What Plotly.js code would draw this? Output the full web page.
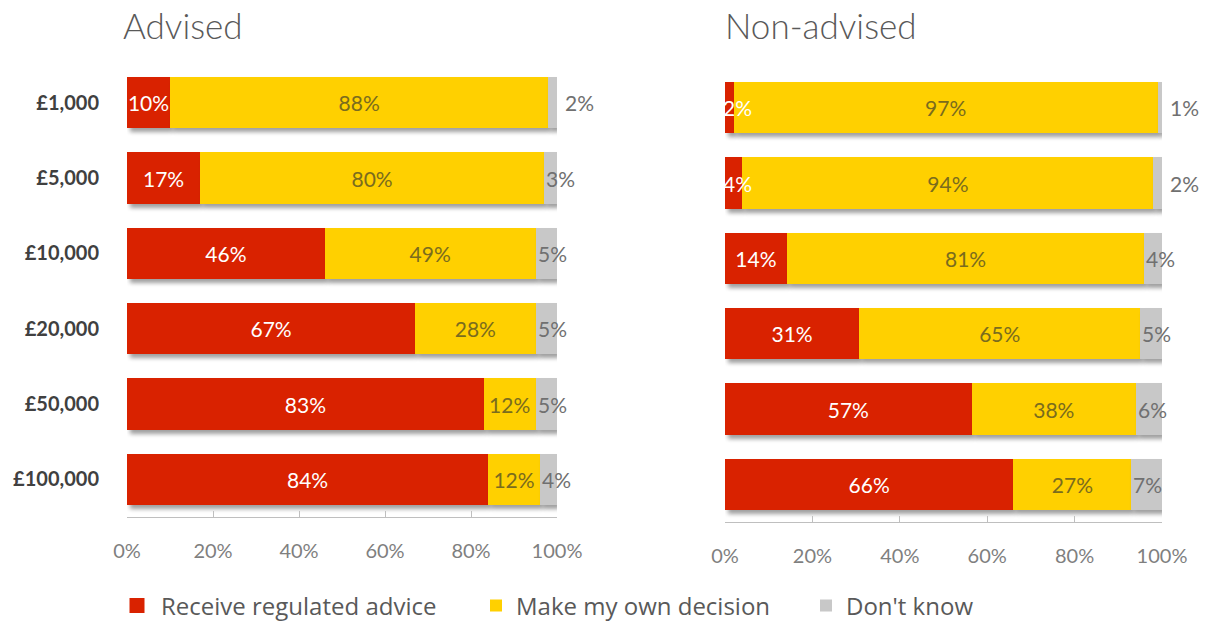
<!DOCTYPE html>
<html>
<head>
<meta charset="utf-8">
<script src="https://cdn.plot.ly/plotly-3.0.1.min.js"></script>
<style>
  html, body { margin: 0; padding: 0; background: #fff; }
  #chart { width: 1211px; height: 621px; }
  .barlayer .point path { filter: url(#barshadow); }
  .legend .legendpoints path { transform: translate(16px, 0px) scale(1.25); }
</style>
</head>
<body>
<svg width="0" height="0" style="position:absolute">
  <defs>
    <filter id="barshadow" filterUnits="userSpaceOnUse" x="-200" y="-200" width="3000" height="3000">
      <feGaussianBlur in="SourceAlpha" stdDeviation="2.2"/>
      <feOffset dx="3" dy="4" result="off"/>
      <feComponentTransfer><feFuncA type="linear" slope="0.38"/></feComponentTransfer>
      <feMerge><feMergeNode/><feMergeNode in="SourceGraphic"/></feMerge>
    </filter>
  </defs>
</svg>
<div id="chart"></div>
<script>
// ---- data ----
const categories = ["£1,000", "£5,000", "£10,000", "£20,000", "£50,000", "£100,000"];
const seriesNames = ["Receive regulated advice", "Make my own decision", "Don't know"];
const advisedRegulated = [10, 17, 46, 67, 83, 84];
const advisedOwn       = [88, 80, 49, 28, 12, 12];
const advisedDontKnow  = [2, 3, 5, 5, 5, 4];
const nonAdvisedRegulated = [2, 4, 14, 31, 57, 66];
const nonAdvisedOwn       = [97, 94, 81, 65, 38, 27];
const nonAdvisedDontKnow  = [1, 2, 4, 5, 6, 7];
const xTickValues = [0, 20, 40, 60, 80, 100];
const xTickLabels = ["0%", "20%", "40%", "60%", "80%", "100%"];
const panelTitles = ["Advised", "Non-advised"];

// ---- styles ----
const colors = ["#D92200", "#FFD000", "#C8C8C8"];
const textColors = ["#FFFFFF", "#7A6C1E", "#707070"];
const labelFont = "Lato, 'Open Sans', sans-serif";
const legendFontFamily = "'Open Sans', Lato, sans-serif";
const W = 1211, H = 621;
const px = v => v / W;
const py = v => 1 - v / H;
const SMALL_RED = 5; // red segments narrower than this get a start-anchored label

function barTrace(vals, i, xa, ya, legendId) {
  const txt = vals.map(v => (i === 0 && v < SMALL_RED) ? "" : v + "%");
  return {
    type: "bar", orientation: "h",
    x: vals, y: categories, xaxis: xa, yaxis: ya,
    name: seriesNames[i],
    marker: { color: colors[i], line: { width: 0 } },
    text: i < 2 ? txt : vals.map(() => ""),
    texttemplate: i < 2 ? "%{text}" : "",
    textposition: i < 2 ? "inside" : "none",
    insidetextanchor: "middle",
    textangle: 0,
    constraintext: "none",
    cliponaxis: false,
    textfont: { family: labelFont, size: 21, color: textColors[i] },
    showlegend: legendId !== null,
    legend: legendId || "legend",
    hoverinfo: "skip"
  };
}

const traces = [
  barTrace(advisedRegulated, 0, "x", "y", "legend"),
  barTrace(advisedOwn, 1, "x", "y", "legend2"),
  barTrace(advisedDontKnow, 2, "x", "y", "legend3"),
  barTrace(nonAdvisedRegulated, 0, "x2", "y2", null),
  barTrace(nonAdvisedOwn, 1, "x2", "y2", null),
  barTrace(nonAdvisedDontKnow, 2, "x2", "y2", null)
];

const annotations = [];
// start-anchored labels for very small red segments
function smallRedLabels(reg, xref, yref) {
  categories.forEach((c, k) => {
    if (reg[k] >= SMALL_RED) return;
    annotations.push({
      xref: xref, yref: yref, x: 0, y: c,
      xanchor: "left", yanchor: "middle", xshift: -4,
      text: reg[k] + "%", showarrow: false,
      font: { family: labelFont, size: 21, color: textColors[0] }
    });
  });
}
// labels for the "Don't know" segments, positioned from normalized data
function grayLabels(reg, own, dk, xref, yref) {
  categories.forEach((c, k) => {
    const total = reg[k] + own[k] + dk[k];
    const share = dk[k] / total * 100;
    const small = dk[k] <= 2;
    annotations.push({
      xref: xref, yref: yref,
      x: small ? 100 : 100 - share, y: c,
      xanchor: "left", yanchor: "middle",
      xshift: small ? 6 : 0,
      text: dk[k] + "%", showarrow: false,
      font: { family: labelFont, size: 21, color: textColors[2] }
    });
  });
}
smallRedLabels(advisedRegulated, "x", "y");
smallRedLabels(nonAdvisedRegulated, "x2", "y2");
grayLabels(advisedRegulated, advisedOwn, advisedDontKnow, "x", "y");
grayLabels(nonAdvisedRegulated, nonAdvisedOwn, nonAdvisedDontKnow, "x2", "y2");

annotations.push({
  xref: "paper", yref: "paper", x: px(121), y: py(25), xanchor: "left", yanchor: "middle",
  text: panelTitles[0], showarrow: false,
  font: { family: labelFont, size: 35, color: "#595959", weight: 300 }
});
annotations.push({
  xref: "paper", yref: "paper", x: px(723), y: py(25), xanchor: "left", yanchor: "middle",
  text: panelTitles[1], showarrow: false,
  font: { family: labelFont, size: 35, color: "#595959", weight: 300 }
});

const xAxisBase = {
  range: [0, 100], tickmode: "array", tickvals: xTickValues, ticktext: xTickLabels,
  showgrid: false, zeroline: false,
  showline: true, linecolor: "#BFBFBF", linewidth: 1,
  ticks: "inside", ticklen: 6, tickcolor: "#BFBFBF",
  tickfont: { family: labelFont, size: 20, color: "#7F7F7F" },
  ticklabelstandoff: 16,
  fixedrange: true
};
const yAxisBase = {
  type: "category", autorange: "reversed",
  showgrid: false, zeroline: false, showline: false, ticks: "",
  fixedrange: true
};

const legendBase = {
  orientation: "h", yanchor: "middle", y: py(606),
  xanchor: "left",
  font: { family: legendFontFamily, size: 24, color: "#595959" },
  bgcolor: "rgba(0,0,0,0)", borderwidth: 0
};

const layout = {
  width: W, height: H,
  margin: { l: 0, r: 0, t: 0, b: 0, autoexpand: false },
  paper_bgcolor: "#FFFFFF", plot_bgcolor: "#FFFFFF",
  barmode: "stack", barnorm: "percent", bargap: 0.32,
  xaxis: Object.assign({}, xAxisBase, { domain: [px(127), px(557)], anchor: "y" }),
  yaxis: Object.assign({}, yAxisBase, {
    domain: [py(517), py(65)], anchor: "x",
    showticklabels: true, ticklabelstandoff: 27,
    tickfont: { family: labelFont, size: 20, color: "#404040", weight: "bold" }
  }),
  xaxis2: Object.assign({}, xAxisBase, { domain: [px(725), px(1162)], anchor: "y2" }),
  yaxis2: Object.assign({}, yAxisBase, {
    domain: [py(522), py(70)], anchor: "x2", showticklabels: false
  }),
  legend: Object.assign({}, legendBase, { x: px(121) }),
  legend2: Object.assign({}, legendBase, { x: px(476) }),
  legend3: Object.assign({}, legendBase, { x: px(806) }),
  annotations: annotations,
  showlegend: true
};

Plotly.newPlot("chart", traces, layout, { displayModeBar: false, staticPlot: true });
</script>
</body>
</html>
